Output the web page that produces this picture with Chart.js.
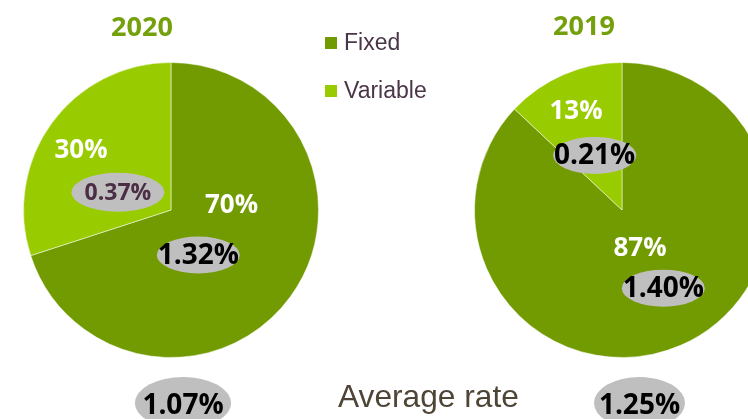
<!DOCTYPE html>
<html>
<head>
<meta charset="utf-8">
<script src="https://cdn.jsdelivr.net/npm/chart.js@4/dist/chart.umd.min.js"></script>
<style>
  body { margin: 0; width: 748px; height: 419px; overflow: hidden; background: #fff; position: relative; font-family: "Open Sans", sans-serif; }
  canvas { position: absolute; top: 0; }
  #pie2020 { left: 0; }
  #pie2019 { left: 400px; }
  .year { position: absolute; width: 100px; text-align: center; font: bold 27px "Open Sans"; color: #74a00c; line-height: 30px; }
  .legend { position: absolute; left: 325px; font: 23px "Liberation Sans", Arial, sans-serif; color: #4b3548; line-height: 26px; }
  .legend span.box { display: inline-block; width: 12px; height: 12px; margin-right: 7px; vertical-align: 1px; }
  .avgLabel { position: absolute; left: 338px; top: 378px; font: 31.7px "Liberation Sans", Arial, sans-serif; color: #4e4537; line-height: 36px; }
  .avg { position: absolute; width: 96px; height: 52px; border-radius: 50%; background: #bfbfbf; text-align: center; font: bold 28px "Open Sans"; line-height: 52px; color: #000; }
</style>
</head>
<body>
<canvas id="pie2020" width="342" height="420"></canvas>
<canvas id="pie2019" width="444" height="420"></canvas>
<div class="year" id="t2020" style="left:92px; top:11px;"></div>
<div class="year" id="t2019" style="left:534px; top:10px;"></div>
<div class="legend" id="legFixed" style="top:29px;"></div>
<div class="legend" id="legVariable" style="top:77px;"></div>
<div class="avgLabel">Average rate</div>
<div class="avg" id="avg2020" style="left:135px; top:377px;"></div>
<div class="avg" id="avg2019" style="left:594px; top:377px; width:91px;"></div>
<script>
// data
var years = ['2020', '2019'];
var categories = ['Fixed', 'Variable'];
var share2020 = [70, 30];   // % of debt, fixed / variable
var share2019 = [87, 13];
var rate2020 = [1.32, 0.37]; // average rate of each part
var rate2019 = [1.40, 0.21];
var averageRate = [1.07, 1.25];
var colors = ['#719b00', '#99cc00'];

// html bits: titles, legend, average rates
document.getElementById('t2020').textContent = years[0];
document.getElementById('t2019').textContent = years[1];
['legFixed', 'legVariable'].forEach(function(id, i) {
  var el = document.getElementById(id);
  el.innerHTML = '<span class="box" style="background:' + colors[i] + '"></span>' + categories[i];
});
document.getElementById('avg2020').textContent = averageRate[0].toFixed(2) + '%';
document.getElementById('avg2019').textContent = averageRate[1].toFixed(2) + '%';

// draws the share and the rate of each slice, offsets are in radius units from the pie centre
var pieLabels = {
  id: 'pieLabels',
  afterDatasetsDraw: function(chart, args, opts) {
    var ctx = chart.ctx;
    var meta = chart.getDatasetMeta(0);
    var shares = chart.data.datasets[0].data;
    meta.data.forEach(function(arc, i) {
      var R = arc.outerRadius;
      var s = opts.spots[i];
      ctx.save();
      ctx.textAlign = 'center';
      ctx.textBaseline = 'middle';
      // share
      ctx.fillStyle = '#fff';
      ctx.font = 'bold ' + s.shareSize + 'px "Open Sans"';
      ctx.fillText(shares[i] + '%', arc.x + s.share[0] * R, arc.y + s.share[1] * R);
      // rate in a grey ellipse
      var rx = arc.x + s.rate[0] * R, ry = arc.y + s.rate[1] * R;
      ctx.fillStyle = '#bfbfbf';
      ctx.beginPath();
      ctx.ellipse(rx, ry, s.ell[0], s.ell[1], 0, 0, Math.PI * 2);
      ctx.fill();
      ctx.fillStyle = s.rateColor;
      ctx.font = 'bold ' + s.rateSize + 'px "Open Sans"';
      ctx.fillText(opts.rates[i].toFixed(2) + '%', rx, ry + 1);
      ctx.restore();
    });
  }
};

function makePie(id, shares, rates, pad, spots) {
  return new Chart(document.getElementById(id), {
    type: 'pie',
    data: {
      labels: categories,
      datasets: [{
        data: shares,
        backgroundColor: colors,
        borderColor: 'rgba(255,255,255,0.5)',
        borderWidth: 1,
        hoverOffset: 0
      }]
    },
    options: {
      responsive: false,
      animation: false,
      layout: { padding: pad },
      plugins: {
        legend: { display: false },
        tooltip: { enabled: false },
        pieLabels: { spots: spots, rates: rates }
      }
    },
    plugins: [pieLabels]
  });
}

makePie('pie2020', share2020, rate2020,
  { left: 23, right: 23, top: 62, bottom: 62 },
  [
    { share: [0.41, -0.03], shareSize: 26, rate: [0.185, 0.305], ell: [41.5, 18.5], rateSize: 28, rateColor: '#000' },
    { share: [-0.61, -0.405], shareSize: 26, rate: [-0.36, -0.12], ell: [46.5, 19.5], rateSize: 23, rateColor: '#4b2e45' }
  ]);

makePie('pie2019', share2019, rate2019,
  { left: 74, right: 74, top: 62, bottom: 62 },
  [
    { share: [0.122, 0.265], shareSize: 26, rate: [0.28, 0.53], ell: [41.5, 18.5], rateSize: 28, rateColor: '#000' },
    { share: [-0.312, -0.665], shareSize: 26, rate: [-0.185, -0.37], ell: [41.5, 18.5], rateSize: 28, rateColor: '#000' }
  ]);
</script>
</body>
</html>
